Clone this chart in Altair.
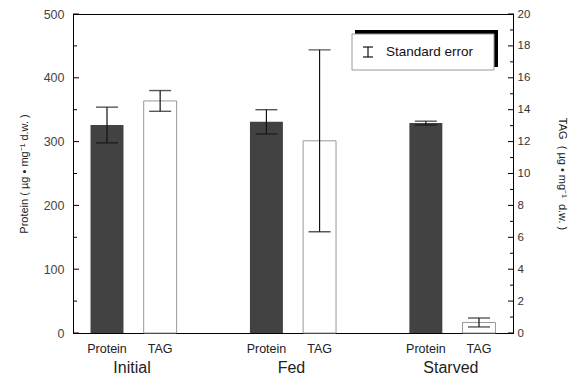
import altair as alt
import pandas as pd

FONT = "Liberation Sans"
NB = "\u00a0"

# ---- data ----
groups = ["Initial", "Fed", "Starved"]
series = ["Protein", "TAG"]
protein_mean = [326, 331, 329]
protein_se = [28, 19, 3]
tag_mean = [14.55, 12.05, 0.66]
tag_se = [0.65, 5.7, 0.28]
slots = ["Initial|Protein", "Initial|TAG", "gap1",
         "Fed|Protein", "Fed|TAG", "gap2",
         "Starved|Protein", "Starved|TAG"]
protein_major = [0, 100, 200, 300, 400, 500]
protein_minor = [50, 150, 250, 350, 450]
tag_major = [0, 2, 4, 6, 8, 10, 12, 14, 16, 18, 20]
tag_minor = [1, 3, 5, 7, 9, 11, 13, 15, 17, 19]
legend_text = ["Standard error"]
protein_title = "Protein ( µg • mg⁻¹ d.w. )"
tag_title = NB.join(["TAG", "", "(", "µg", "•", "mg⁻¹", "", "d.w.", ")"])

W, H = 440, 319

prot = pd.DataFrame({
    "slot": [g + "|Protein" for g in groups],
    "mean": protein_mean,
    "lo": [m - s for m, s in zip(protein_mean, protein_se)],
    "hi": [m + s for m, s in zip(protein_mean, protein_se)],
})
tag = pd.DataFrame({
    "slot": [g + "|TAG" for g in groups],
    "mean": tag_mean,
    "lo": [m - s for m, s in zip(tag_mean, tag_se)],
    "hi": [m + s for m, s in zip(tag_mean, tag_se)],
})

xenc = alt.X(
    "slot:N",
    scale=alt.Scale(domain=slots, paddingInner=0.38, paddingOuter=0.33),
    axis=alt.Axis(
        title=None,
        labelExpr="indexof(datum.value, '|') > 0 ? split(datum.value, '|')[1] : ''",
        labelAngle=0, ticks=False, domainColor="black", labelPadding=9,
        labelFontSize=12.5, labelColor="#222", labelFont=FONT,
    ),
)

pscale = alt.Scale(domain=[0, 500], nice=False)
tscale = alt.Scale(domain=[0, 20], nice=False)

paxis = alt.Axis(
    title=protein_title, values=protein_major, ticks=False, grid=False,
    domainColor="black", labelPadding=9, labelFontSize=12.5, labelColor="#444",
    labelFont=FONT, titleFont=FONT, titleFontSize=11, titleFontWeight="normal",
    titleColor="#222", titlePadding=14,
)
taxis = alt.Axis(
    title=tag_title, orient="right", values=tag_major, ticks=False, grid=False,
    domainColor="black", labelPadding=4, labelFontSize=11.5, labelColor="#333",
    labelFont=FONT, titleFont=FONT, titleFontSize=11, titleFontWeight="normal",
    titleColor="#222", titlePadding=27,
)


def group_layers(df, scale, axis, major, minor, bar_mark, tick_x, tick_x2_major, tick_x2_minor):
    bars = alt.Chart(df).mark_bar(**bar_mark).encode(
        x=xenc, y=alt.Y("mean:Q", scale=scale, axis=axis))
    rule = alt.Chart(df).mark_rule(color="#111", strokeWidth=1.2).encode(
        x=xenc, y=alt.Y("lo:Q", scale=scale, axis=axis), y2="hi:Q")
    cap_hi = alt.Chart(df).mark_tick(size=22, thickness=1.4, color="#111").encode(
        x=xenc, y=alt.Y("hi:Q", scale=scale, axis=axis))
    cap_lo = alt.Chart(df).mark_tick(size=22, thickness=1.4, color="#111").encode(
        x=xenc, y=alt.Y("lo:Q", scale=scale, axis=axis))
    tmaj = alt.Chart(pd.DataFrame({"mean": major})).mark_rule(color="black", strokeWidth=1).encode(
        y=alt.Y("mean:Q", scale=scale, axis=axis), x=alt.value(tick_x), x2=alt.value(tick_x2_major))
    tmin = alt.Chart(pd.DataFrame({"mean": minor})).mark_rule(color="black", strokeWidth=1).encode(
        y=alt.Y("mean:Q", scale=scale, axis=axis), x=alt.value(tick_x), x2=alt.value(tick_x2_minor))
    return alt.layer(bars, rule, cap_hi, cap_lo, tmaj, tmin)


protein_layer = group_layers(prot, pscale, paxis, protein_major, protein_minor,
                             dict(color="#424242"), 0, 6, 4)
tag_layer = group_layers(tag, tscale, taxis, tag_major, tag_minor,
                         dict(fill="white", stroke="#999", strokeWidth=1), W + 1, W - 5, W - 3)

glab = alt.Chart(pd.DataFrame({"slot": [g + "|Protein" for g in groups], "group": groups})).mark_text(
    dx=25, fontSize=16, baseline="middle", align="center", font=FONT, color="#222"
).encode(x=xenc, y=alt.value(354), text="group:N")

one = pd.DataFrame({"t": legend_text})
leg_shadow = alt.Chart(one).mark_rect(color="black").encode(
    x=alt.value(282), x2=alt.value(425), y=alt.value(16), y2=alt.value(53))
leg_box = alt.Chart(one).mark_rect(fill="white", stroke="#999", strokeWidth=1).encode(
    x=alt.value(279), x2=alt.value(421), y=alt.value(20), y2=alt.value(56))
leg_v = alt.Chart(one).mark_rule(color="#111", strokeWidth=1.2).encode(
    x=alt.value(295), y=alt.value(33), y2=alt.value(43))
leg_t = alt.Chart(one).mark_rule(color="#111", strokeWidth=1.2).encode(
    x=alt.value(290), x2=alt.value(300), y=alt.value(33))
leg_b = alt.Chart(one).mark_rule(color="#111", strokeWidth=1.2).encode(
    x=alt.value(290), x2=alt.value(300), y=alt.value(43))
leg_text = alt.Chart(one).mark_text(
    align="left", baseline="middle", fontSize=13.5, font=FONT, color="#111"
).encode(x=alt.value(313), y=alt.value(38), text="t:N")

chart = alt.layer(
    protein_layer, tag_layer, glab,
    leg_shadow, leg_box, leg_v, leg_t, leg_b, leg_text,
).resolve_scale(y="independent").properties(
    width=W, height=H,
    autosize="none",
    padding={"left": 73, "top": 14, "right": 58, "bottom": 43},
    background="white",
).configure_view(stroke="black", strokeWidth=1)

chart.save("out.html", embed_options={"renderer": "svg", "actions": False})
